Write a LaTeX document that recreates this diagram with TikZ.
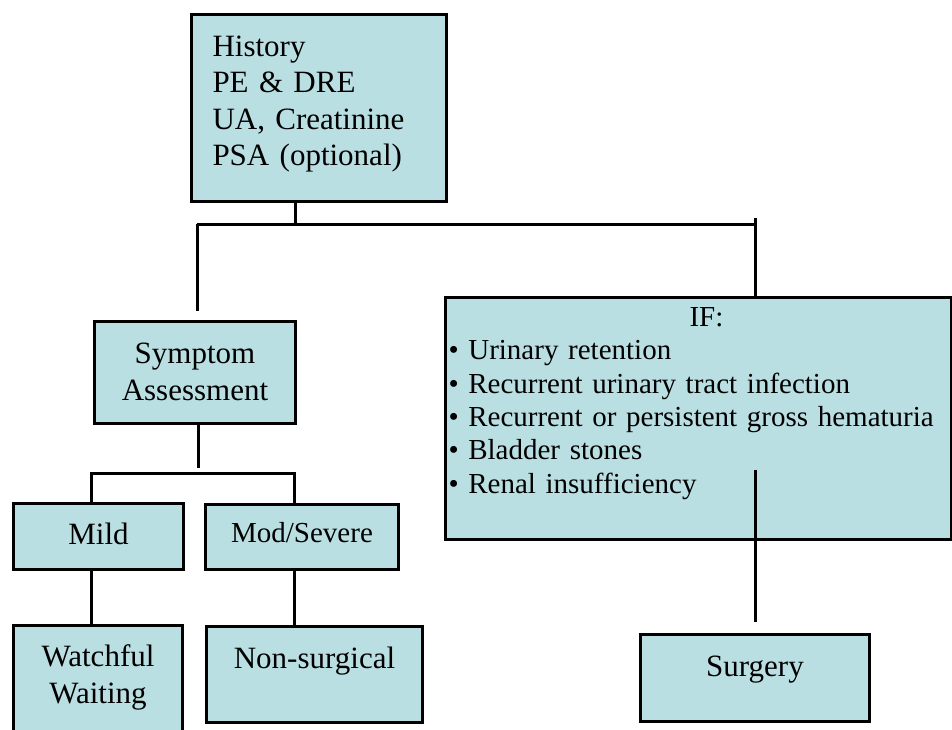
\documentclass[tikz,border=0pt]{standalone}
\usepackage{fontspec}
\setmainfont{Liberation Serif}
\definecolor{boxblue}{RGB}{186,223,227}
\newcommand\bigfont{\fontsize{31}{36.5}\selectfont}
\newcommand\smallfont{\fontsize{29}{33.3}\selectfont}
\begin{document}
\begin{tikzpicture}[x=1pt,y=-1pt,
    box/.style={draw, line width=3pt, fill=boxblue, anchor=north west, inner sep=0pt, align=center, font=\bigfont},
    link/.style={line width=3pt}]
    % canvas
    \useasboundingbox (0,0) rectangle (952,730);
    % top box
    \node [box, align=left, inner xsep=21pt, text width=213pt, minimum width=255pt, minimum height=187pt,
        text height=42pt, text depth=145pt] (hist) at (190,13)
        {History\\PE \& DRE\\UA, Creatinine\\PSA (optional)};
    % left branch
    \node [box, text width=201pt, minimum height=102pt, text height=42pt, text depth=60pt] (symp) at (93,320)
        {Symptom\\Assessment};
    \node [box, text width=170pt, minimum height=66pt, text height=41pt, text depth=25pt] (mild) at (12,502) {Mild};
    \node [box, font=\smallfont, text width=193pt, minimum height=65pt, text height=38pt, text depth=27pt] (mod) at (204,503) {Mod/Severe};
    \node [box, text width=169pt, minimum height=130pt, text height=41pt, text depth=89pt] (watch) at (12,624)
        {Watchful\\Waiting};
    \node [box, text width=216pt, minimum height=96pt, text height=42pt, text depth=54pt] (nonsurg) at (205,625) {Non-surgical};
    % right branch
    \node [box, font=\smallfont, align=left, inner xsep=3pt, text width=500pt, minimum height=242pt,
        text height=29pt, text depth=213pt] (iff) at (444,296)
        {\makebox[500pt]{\hspace*{16pt}IF:}\\
         • Urinary retention\\
         • Recurrent urinary tract infection\\
         • Recurrent or persistent gross hematuria\\
         • Bladder stones\\
         • Renal insufficiency};
    \node [box, text width=229pt, minimum height=87pt, text height=42pt, text depth=45pt] (surg) at (639,633) {Surgery};
    % junctions
    \coordinate (topBar) at (295,224);
    \coordinate (leftBar) at (197,224);
    \coordinate (rightBar) at (755,224);
    \coordinate (rightTop) at (755,218);
    \coordinate (leftEnd) at (197,311);
    \coordinate (sympEnd) at (198,468);
    \coordinate (mildBar) at (91,473);
    \coordinate (modBar) at (294,473);
    \coordinate (ifLine) at (755,470);
    \coordinate (surgEnd) at (755,622);
    % top connectors
    \draw [link] (hist.south -| topBar) -- (topBar);
    \draw [link] (leftBar) -- (rightBar);
    \draw [link] (leftBar) -- (leftEnd);
    \draw [link] (rightTop) -- (rightTop |- iff.north);
    % symptom connectors
    \draw [link] (symp.south -| sympEnd) -- (sympEnd);
    \draw [link] (mild.north -| mildBar) -- (mildBar) -- (modBar) -- (mod.north -| modBar);
    \draw [link] (mild.south -| mildBar) -- (watch.north -| mildBar);
    \draw [link] (mod.south -| modBar) -- (nonsurg.north -| modBar);
    % surgery connector
    \draw [link] (ifLine) -- (surgEnd);
\end{tikzpicture}
\end{document}
